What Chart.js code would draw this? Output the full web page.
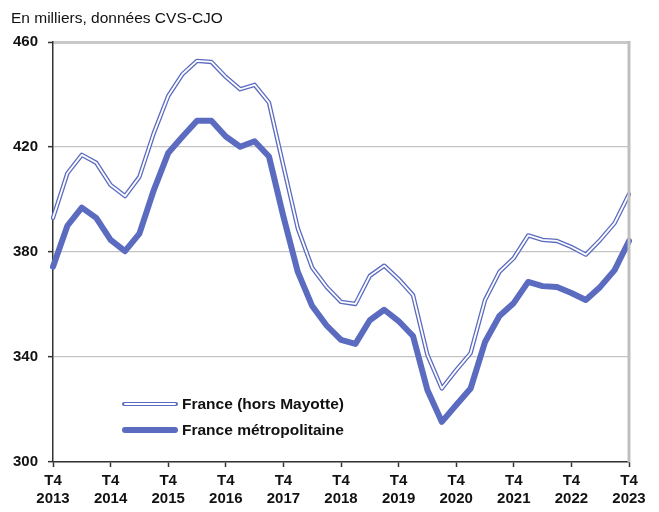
<!DOCTYPE html>
<html><head><meta charset="utf-8">
<script src="https://cdn.jsdelivr.net/npm/chart.js@4/dist/chart.umd.min.js"></script>
<style>
html,body{margin:0;padding:0;background:#fff;}
#wrap{position:relative;width:659px;height:512px;overflow:hidden;}
canvas{position:absolute;left:0;top:0;}
#title{position:absolute;left:11px;top:10px;font:15.5px/16px "Liberation Sans",Arial,sans-serif;color:#111;white-space:nowrap;}
.leg{position:absolute;left:122px;height:16px;display:flex;align-items:center;font:bold 15.5px/16px "Liberation Sans",Arial,sans-serif;color:#111;white-space:nowrap;}
.sw{width:56px;border-radius:3px;margin-right:4px;position:relative;}
.sw1{height:4.4px;background:#5B6BC0;}
.sw1::after{content:"";position:absolute;left:2px;right:2px;top:1.3px;height:1.8px;background:#fff;border-radius:1px;}
.sw2{height:6px;background:#5B6BC0;}
</style></head>
<body>
<div id="wrap">
<canvas id="c" width="659" height="512"></canvas>
<div id="title">En milliers, données CVS-CJO</div>
<div class="leg" style="top:396px"><div class="sw sw1"></div>France (hors Mayotte)</div>
<div class="leg" style="top:422px"><div class="sw sw2"></div>France métropolitaine</div>
</div>
<script>
const categories = [
 "T4 2013",
 "T1 2014","T2 2014","T3 2014","T4 2014",
 "T1 2015","T2 2015","T3 2015","T4 2015",
 "T1 2016","T2 2016","T3 2016","T4 2016",
 "T1 2017","T2 2017","T3 2017","T4 2017",
 "T1 2018","T2 2018","T3 2018","T4 2018",
 "T1 2019","T2 2019","T3 2019","T4 2019",
 "T1 2020","T2 2020","T3 2020","T4 2020",
 "T1 2021","T2 2021","T3 2021","T4 2021",
 "T1 2022","T2 2022","T3 2022","T4 2022",
 "T1 2023","T2 2023","T3 2023","T4 2023"
];
const tickQuarter = "T4";
const tickYears = ["2013","2014","2015","2016","2017","2018","2019","2020","2021","2022","2023"];
const yTicks = [300, 340, 380, 420, 460];
const franceHorsMayotte = [393,410,417,414,405.5,401.3,408.6,425.3,439.4,447.8,452.8,452.4,446.7,442,443.7,436.9,412.8,389,374,366.7,361,360.2,370.9,374.8,369.7,363.6,340.8,328,335,341.5,361.7,372.4,377.7,386.3,384.6,384.2,381.9,379,384.6,391,402];
const franceMetropolitaine = [374.4,390,396.9,393,384.6,380.3,387,403.6,417.7,424,430,430,424,420.1,422.2,416.4,393.5,372.4,359.4,352,346.5,345,354,358,353.7,348,327.4,315.3,321.7,328,345.7,355.6,360.6,368.6,367,366.7,364.4,361.7,366.7,373.1,384.2];

const BLUE = '#5B6BC0';
const FONT = '"Liberation Sans", Arial, sans-serif';

const frameLines = {
  id: 'frameLines',
  afterDatasetsDraw(chart) {
    const {ctx, chartArea: a} = chart;
    ctx.save();
    ctx.strokeStyle = '#bfbfbf';
    ctx.lineWidth = 3;
    ctx.beginPath();
    ctx.moveTo(a.right, a.top - 1);
    ctx.lineTo(a.right, a.bottom);
    ctx.stroke();
    ctx.restore();
  }
};

new Chart(document.getElementById('c'), {
  type: 'line',
  data: {
    labels: categories,
    datasets: [
      {label: 'France (hors Mayotte) inner', data: franceHorsMayotte, borderColor: '#ffffff', borderWidth: 1.8, order: 0},
      {label: 'France (hors Mayotte)', data: franceHorsMayotte, borderColor: BLUE, borderWidth: 4.4, order: 1},
      {label: 'France métropolitaine', data: franceMetropolitaine, borderColor: BLUE, borderWidth: 6, order: 2}
    ]
  },
  options: {
    responsive: false,
    animation: false,
    devicePixelRatio: 1,
    elements: {
      point: {radius: 0, hoverRadius: 0},
      line: {tension: 0, borderJoinStyle: 'round', borderCapStyle: 'round', fill: false}
    },
    layout: {padding: {top: 42, right: 30, left: 0, bottom: 0}},
    plugins: {legend: {display: false}, tooltip: {enabled: false}},
    scales: {
      x: {
        type: 'category',
        offset: false,
        afterFit: s => { s.height = 50; },
        border: {color: '#333', width: 1.5},
        grid: {
          drawOnChartArea: false,
          tickLength: 5,
          tickColor: c => (c.index % 4 === 0 ? '#333' : 'rgba(0,0,0,0)'),
          tickWidth: 1.5
        },
        ticks: {
          autoSkip: false,
          maxRotation: 0,
          minRotation: 0,
          padding: 5,
          color: '#111',
          font: {family: FONT, size: 15, weight: 'bold', lineHeight: 1.18},
          callback: (v, i) => (i % 4 === 0 ? [tickQuarter, tickYears[i / 4]] : '')
        }
      },
      y: {
        min: yTicks[0],
        max: yTicks[yTicks.length - 1],
        afterFit: s => { s.width = 53; },
        afterBuildTicks: s => { s.ticks = yTicks.map(v => ({value: v})); },
        border: {color: '#333', width: 1.5},
        grid: {
          color: c => (c.tick && c.tick.value === 460 ? '#c8c8c8' : '#c4c4c4'),
          lineWidth: c => (c.tick && c.tick.value === 460 ? 3 : 1.3),
          tickLength: 5,
          tickColor: '#333',
          tickWidth: 1.5
        },
        ticks: {
          padding: 10,
          color: '#111',
          font: {family: FONT, size: 15, weight: 'bold'}
        }
      }
    }
  },
  plugins: [frameLines]
});
</script>
</body></html>
